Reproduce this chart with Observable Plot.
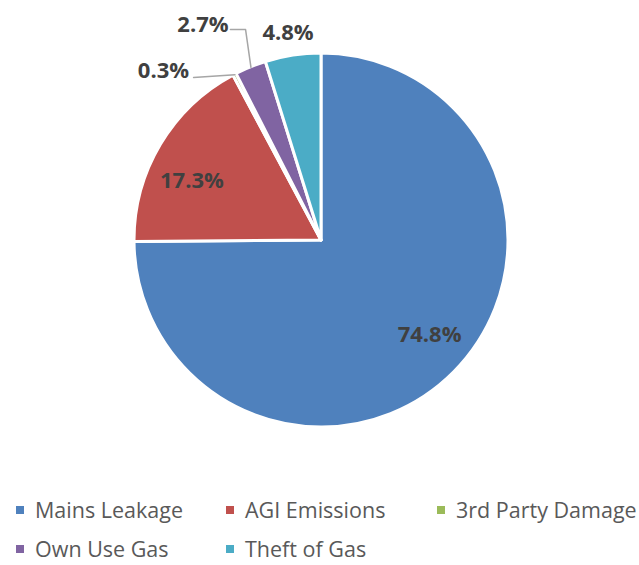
<!DOCTYPE html>
<html>
<head>
<meta charset="utf-8">
<script src="https://cdn.jsdelivr.net/npm/d3@7"></script>
<script src="https://cdn.jsdelivr.net/npm/@observablehq/plot@0.6"></script>
<style>
  html, body { margin: 0; padding: 0; background: #fff; }
  body { width: 639px; height: 565px; overflow: hidden; position: relative; font-family: "Open Sans", sans-serif; }
  #legend { position: absolute; left: 0; top: 0; width: 639px; }
  .item { position: absolute; display: flex; align-items: center; font-size: 21.5px; color: #595959; white-space: nowrap; line-height: 1; }
  .sw { width: 8px; height: 8px; margin-right: 11px; }
</style>
</head>
<body>
<div id="chart"></div>
<div id="legend"></div>
<script>
const categories = ["Mains Leakage", "AGI Emissions", "3rd Party Damage", "Own Use Gas", "Theft of Gas"];
const values = [74.8, 17.3, 0.3, 2.7, 4.8];
const colors = ["#4F81BD", "#C0504D", "#9BBB59", "#8064A2", "#4BACC6"];

// label placement (unit-radius coordinates) and leader line starts
const labelLayout = {
  "Mains Leakage":    {x: 0.578,  y: -0.505},
  "AGI Emissions":    {x: -0.693, y: 0.321},
  "3rd Party Damage": {x: -0.845, y: 0.904, leader: [[-0.684, 0.872]]},
  "Own Use Gas":      {x: -0.634, y: 1.150, leader: [[-0.487, 1.128], [-0.406, 1.128]]},
  "Theft of Gas":     {x: -0.179, y: 1.112}
};

const slices = categories.map((c, i) => ({category: c, value: values[i], color: colors[i]}));
const arcs = d3.pie().sort(null).value(d => d.value)(slices);

const labels = arcs.map(a => ({
  text: a.data.value.toFixed(1) + "%",
  x: labelLayout[a.data.category].x,
  y: labelLayout[a.data.category].y
}));

const leaders = [];
arcs.forEach(a => {
  const L = labelLayout[a.data.category].leader;
  if (!L) return;
  const mid = (a.startAngle + a.endAngle) / 2;
  L.forEach(p => leaders.push({id: a.data.category, x: p[0], y: p[1]}));
  leaders.push({id: a.data.category, x: Math.sin(mid) * 1.0, y: Math.cos(mid) * 1.0});
});

function pieMark(index, scales) {
  const sx = scales.x, sy = scales.y;
  const cx = sx(0), cy = sy(0), r = sx(1) - sx(0);
  const arc = d3.arc().innerRadius(0).outerRadius(r);
  const g = d3.create("svg:g").attr("transform", `translate(${cx},${cy})`);
  g.selectAll("path").data(arcs).join("path")
    .attr("d", arc)
    .attr("fill", d => d.data.color)
    .attr("stroke", "white")
    .attr("stroke-width", 3)
    .attr("stroke-linejoin", "round");
  return g.node();
}

const plot = Plot.plot({
  width: 639,
  height: 480,
  margin: 0,
  x: {domain: [-1, 1], range: [134, 508], axis: null},
  y: {domain: [-1, 1], range: [427, 53], axis: null},
  style: {fontFamily: "Open Sans, sans-serif", background: "white"},
  marks: [
    pieMark,
    Plot.line(leaders, {x: "x", y: "y", z: "id", stroke: "#A6A6A6", strokeWidth: 1.5}),
    Plot.text(labels, {x: "x", y: "y", text: "text", fontSize: 22, fontWeight: "bold", fill: "#404040"})
  ]
});
document.getElementById("chart").appendChild(plot);

// legend
const legendPos = [[16, 510], [226, 510], [437, 510], [16, 549], [226, 549]];
const legend = document.getElementById("legend");
categories.forEach((c, i) => {
  const it = document.createElement("div");
  it.className = "item";
  it.style.left = legendPos[i][0] + "px";
  it.style.top = (legendPos[i][1] - 12) + "px";
  it.style.height = "24px";
  const sw = document.createElement("span");
  sw.className = "sw";
  sw.style.background = colors[i];
  const tx = document.createElement("span");
  tx.textContent = c;
  it.appendChild(sw); it.appendChild(tx);
  legend.appendChild(it);
});
</script>
</body>
</html>
